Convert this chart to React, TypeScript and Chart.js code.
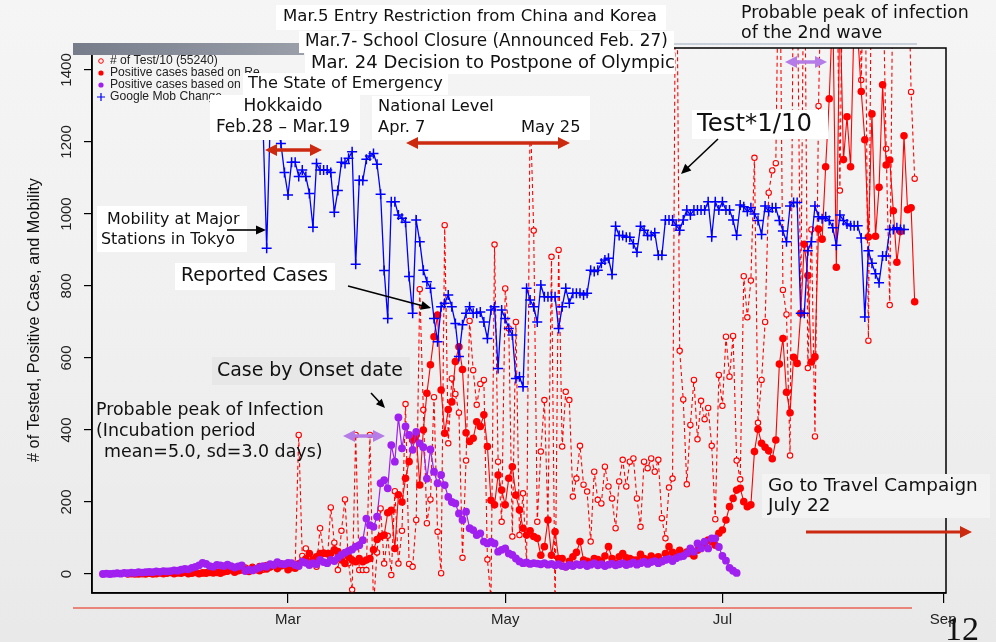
import React, { useEffect, useRef } from 'react';
import { Chart, registerables } from 'chart.js';

Chart.register(...registerables);

// x values are day numbers of 2020 (0 = Jan 1)
const xMin = 4.94;
const xMax = 244.8;
const yMin = -52.8;
const yMax = 1461;
const xTickDays = [60, 121, 182, 244];
const xTickLabels = ['Mar', 'May', 'Jul', 'Sep'];
const yTicks = [0, 200, 400, 600, 800, 1000, 1200, 1400];

// # of Test / 10 (from day 36)
const testStart = 36;
const tests = [
  2, 5, 3, 8, 4, 6, 10, 7, 12, 9, 15, 11, 18, 14, 20, 16, 22, 12, 25, 18, 28, 20, 30, 24,
  15, 30, 20, 386, 50, 71, 25, 40, 20, 127,
  60, 30, 185, 87, 11, 120, 207, 30, -44, 386,
  11, 11, 11, 386, -90, 60, 182, 29, 106, -3,
  230, 29, 120, 472, 28, 20, 150,
  791, 456, 141, 207, 491, 117, 2, 969, 363, 543,
  500, 448, 45, 315, 703, 566, 470, 528, 539, 40,
  -70, 915, 312, 145, 793, 682, 104, 700, 108, 224,
  30, 1300, 954, 145, 340, 483, 150, 881, -100, 900,
  354, 506, 483, 215, 265, 356, 248, 229, 90,
  284, 206, 196, 298, 243, 210, 127, 257, 317, 243,
  312, 321, 210, 131, 312, 294, 321, 284, 317, 155,
  99, 240, 265, 2000, 620, 485, 249, 414, 539, 374,
  481, 430, 461, 356, 152, 553, 467, 659, 548, 661,
  315, 263, 827, 713, 815, 1156, 420, 539, 700, 1059,
  1121, 1141, 1900, 789, 721, 329, 1800, 1700, 724, 1900,
  572, 957, 382, 1300, 1800, 1600, 1900, 1700, 1800, 1065,
  1900, 1750, 1800, 1700, 1900, 1372, 1800, 648, 1900, 1750,
  1800, 1700, 1181, 747, 1800, 1700, 1900, 1650, 1800, 1339,
  1098,
];

// Positive cases by reported date (from day 15)
const reportedStart = 15;
const reported = [
  0, 1, 0, 0, 1, 0, 2, 0, 1, 3,
  1, 2, 4, 1, 3, 2, 5, 1, 2, 4,
  1, 3, 2, 5, 3, 4, 2, 6, 8, 12,
  5, 9, 11, 14, 7, 15, 12, 9, 18, 14,
  20, 24, 15, 22, 26, 12, 18, 16, 28, 35,
  42, 57, 39, 48, 57, 57, 56, 57, 67, 62,
  39, 29, 48, 39, 34, 43, 34, 39, 43, 67,
  96, 104, 108, 170, 177, 71, 220, 200, 266, 312,
  372, 386, 247, 400, 502, 581, 659, 719, 511, 391,
  457, 478, 590, 631, 568, 392, 368, 377, 423, 410,
  442, 354, 205, 192, 275, 233, 192, 266, 298, 219,
  178, 127, 108, 120, 104, 99, 52, 76, 150, 52,
  117, 43, 43, 20, 35, 48, 60, 90, 39, 35,
  30, 43, 40, 35, 50, 76, 43, 30, 48, 57,
  45, 43, 39, 39, 55, 43, 39, 50, 43, 48,
  35, 57, 76, 60, 50, 66, 55, 61, 57, 50,
  66, 76, 80, 94, 90, 80, 113, 122, 150, 187,
  210, 233, 238, 201, 187, 192, 340, 402, 363, 352,
  342, 320, 372, 583, 654, 505, 448, 602, 585, 724,
  916, 829, 589, 603, 958, 930, 1131, 1320, 1580, 852,
  1600, 1151, 1270, 1131, 1550, 1500, 1340, 1206, 936, 1278,
  938, 1074, 1359, 1136, 1150, 1009, 866, 951, 1217, 1012,
  1017, 756,
];

// Positive cases by onset date (from day 8)
const onsetStart = 8;
const onset = [
  0, 1, 0, 1, 2, 1, 3, 2, 4, 3,
  5, 4, 5, 6, 5, 7, 6, 8, 7, 8,
  10, 9, 12, 14, 13, 17, 20, 24,
  31, 28, 22, 20, 25, 24, 22, 26, 22, 18,
  21, 24, 8, 12, 10, 14, 18, 22, 20, 27,
  25, 33, 28, 27, 31, 30, 25, 22, 34, 31,
  25, 30, 27, 39, 33, 30, 39, 36, 45, 53,
  59, 64, 68,
  76, 80, 94, 154, 136, 131, 159, 252, 261, 238,
  358, 312, 435, 349, 410, 386, 345, 395, 363, 352,
  265, 346, 284, 252, 275, 247, 214, 200, 196, 168,
  150, 173, 127, 122, 108, 113, 90, 85, 90, 85,
  62, 67, 71, 57, 53, 43, 35,
  30, 32, 28, 30, 29, 27, 30, 26, 28, 24,
  27, 22, 20, 25, 22, 27, 25, 28, 22, 26,
  30, 24, 27, 22, 26, 29, 24, 27, 30, 25,
  28, 32, 26, 30, 34, 28, 33, 36, 30, 35,
  39, 42, 36, 44, 48, 50, 57, 71, 62, 85,
  71, 90, 71, 99, 99, 75, 50, 37, 17, 9,
  3,
];

// Google mobility at major stations in Tokyo (scaled, from day 45)
const mobilityStart = 45;
const mobility = [
  1290, 1275, 1300, 1310, 1295, 1270, 1250, 1260, 1240, 905,
  1260, 1250, 1240, 1196, 1115, 1053, 1144, 1144, 1104, 1122,
  1104, 1057, 963, 1140, 1122, 1122, 1122, 1115, 1005, 1065,
  1144, 1140, 1155, 1173, 860, 1094, 1093, 1152, 1161, 1168,
  1138, 1055, 843, 710, 1034, 1034, 997, 988, 977, 826,
  724, 983, 923, 844, 812, 794, 710, 645, 742, 752,
  775, 742, 696, 604, 692, 724, 742, 724, 724, 728,
  700, 654, 733, 742, 571, 733, 710, 682, 664, 543,
  548, 520, 794, 761, 742, 700, 803, 770, 770, 770,
  770, 682, 742, 794, 752, 780, 780, 780, 775, 780,
  844, 840, 844, 863, 872, 877, 832, 966, 940, 940,
  935, 935, 917, 894, 966, 955, 940, 940, 948, 885,
  885, 983, 983, 983, 969, 955, 983, 1011, 997, 1011,
  1011, 1011, 1011, 1034, 937, 1034, 1011, 1034, 1011, 1011,
  983, 941, 1025, 1020, 1007, 1017, 1000, 982, 943, 1022,
  1007, 1017, 1017, 982, 953, 923, 1022, 1032, 1032, 724,
  724, 898, 923, 1022, 992, 987, 992, 982, 962, 913,
  997, 982, 972, 967, 967, 967, 933, 714, 898, 863,
  834, 809, 883, 883, 957, 957, 962, 957, 957,
];

const legendLabels = [
  '# of Test/10 (55240)',
  'Positive cases based on Re',
  'Positive cases based on On',
  'Google Mob Change',
];
const yTitle = '# of Tested, Positive Case, and Mobility';

const RED = '#ff0000';
const PURPLE = '#a020f0';
const BLUE = '#0000ff';
const ANN = '"DejaVu Sans", sans-serif';
const AX = '"Liberation Sans", Arial, sans-serif';

const toPts = (start: number, arr: number[]) => arr.map((y, i) => ({ x: start + i, y }));

function fitSize(ctx: CanvasRenderingContext2D, s: string, w: number, family: string) {
  ctx.font = `100px ${family}`;
  return (100 * w) / ctx.measureText(s).width;
}
function text(ctx: CanvasRenderingContext2D, s: string, x: number, yc: number, size: number, family: string, color = '#111', align: CanvasTextAlign = 'left') {
  ctx.font = `${size}px ${family}`;
  ctx.fillStyle = color;
  ctx.textBaseline = 'middle';
  ctx.textAlign = align;
  ctx.fillText(s, x, yc);
}
function rect(ctx: CanvasRenderingContext2D, x: number, y: number, w: number, h: number, color: string) {
  ctx.fillStyle = color;
  ctx.fillRect(x, y, w, h);
}
function head(ctx: CanvasRenderingContext2D, x1: number, y1: number, x2: number, y2: number, len: number, hw: number) {
  const a = Math.atan2(y2 - y1, x2 - x1);
  const c = Math.cos(a), s = Math.sin(a);
  ctx.beginPath();
  ctx.moveTo(x2, y2);
  ctx.lineTo(x2 - len * c + hw * s, y2 - len * s - hw * c);
  ctx.lineTo(x2 - len * c - hw * s, y2 - len * s + hw * c);
  ctx.closePath();
  ctx.fill();
}
function arrow(ctx: CanvasRenderingContext2D, x1: number, y1: number, x2: number, y2: number, color: string, lw: number, len: number, hw: number, both = false) {
  const a = Math.atan2(y2 - y1, x2 - x1);
  const c = Math.cos(a), s = Math.sin(a);
  ctx.strokeStyle = color;
  ctx.fillStyle = color;
  ctx.lineWidth = lw;
  ctx.setLineDash([]);
  ctx.beginPath();
  ctx.moveTo(both ? x1 + len * 0.8 * c : x1, both ? y1 + len * 0.8 * s : y1);
  ctx.lineTo(x2 - len * 0.8 * c, y2 - len * 0.8 * s);
  ctx.stroke();
  head(ctx, x1, y1, x2, y2, len, hw);
  if (both) head(ctx, x2, y2, x1, y1, len, hw);
}

const bgPlugin = {
  id: 'slideBg',
  beforeDraw(chart: any) {
    const { ctx, width, height } = chart;
    const g = ctx.createLinearGradient(0, 0, 0, height);
    g.addColorStop(0, '#f5f5f5');
    g.addColorStop(0.5, '#f0f0f0');
    g.addColorStop(1, '#e9e9e9');
    ctx.save();
    ctx.fillStyle = g;
    ctx.fillRect(0, 0, width, height);
    ctx.restore();
  },
};

const decoPlugin = {
  id: 'deco',
  afterDraw(chart: any) {
    const ctx: CanvasRenderingContext2D = chart.ctx;
    const a = chart.chartArea;
    const ys = chart.scales.y;
    ctx.save();

    // plot box
    ctx.strokeStyle = '#000';
    ctx.lineWidth = 1.5;
    ctx.setLineDash([]);
    ctx.strokeRect(a.left, a.top, a.right - a.left, a.bottom - a.top);

    // y tick labels (rotated, R style)
    yTicks.forEach((v) => {
      const py = ys.getPixelForValue(v);
      ctx.save();
      ctx.translate(67, py);
      ctx.rotate(-Math.PI / 2);
      text(ctx, String(v), 0, 0, 15, AX, '#222', 'center');
      ctx.restore();
    });
    // y axis title
    ctx.save();
    ctx.translate(35, 320);
    ctx.rotate(-Math.PI / 2);
    text(ctx, yTitle, 0, 0, fitSize(ctx, yTitle, 284, AX), AX, '#111', 'center');
    ctx.restore();

    // legend
    const ly = [61, 73, 85, 97];
    const lsize = fitSize(ctx, legendLabels[0], 108, AX);
    ctx.lineWidth = 1;
    ctx.strokeStyle = RED;
    ctx.beginPath(); ctx.arc(101, ly[0], 2.3, 0, Math.PI * 2); ctx.stroke();
    ctx.fillStyle = RED;
    ctx.beginPath(); ctx.arc(101, ly[1], 2.6, 0, Math.PI * 2); ctx.fill();
    ctx.fillStyle = PURPLE;
    ctx.beginPath(); ctx.arc(101, ly[2], 2.6, 0, Math.PI * 2); ctx.fill();
    ctx.strokeStyle = BLUE; ctx.lineWidth = 1.2;
    ctx.beginPath(); ctx.moveTo(97, ly[3]); ctx.lineTo(105, ly[3]); ctx.moveTo(101, ly[3] - 4); ctx.lineTo(101, ly[3] + 4); ctx.stroke();
    legendLabels.forEach((s, i) => text(ctx, s, 110, ly[i], lsize, AX, '#222'));

    // slide decorations
    const bar = ctx.createLinearGradient(73, 0, 304, 0);
    bar.addColorStop(0, '#767c8a');
    bar.addColorStop(1, '#9a9fa9');
    ctx.fillStyle = bar;
    ctx.fillRect(73, 43, 231, 12);
    ctx.strokeStyle = '#b9c3cf';
    ctx.lineWidth = 1.5;
    ctx.beginPath(); ctx.moveTo(672, 44); ctx.lineTo(917, 44); ctx.stroke();
    ctx.strokeStyle = '#e8200a';
    ctx.lineWidth = 1.2;
    ctx.beginPath(); ctx.moveTo(73, 608); ctx.lineTo(912, 608); ctx.stroke();

    // annotation boxes and texts
    const W = '#ffffff';
    let s: number;
    rect(ctx, 276, 5, 390, 25, W);
    s = fitSize(ctx, 'Mar.5 Entry Restriction from China and Korea', 374, ANN);
    text(ctx, 'Mar.5 Entry Restriction from China and Korea', 283, 17, s, ANN);

    rect(ctx, 299, 31, 375, 22, W);
    s = fitSize(ctx, 'Mar.7- School Closure (Announced Feb. 27)', 363, ANN);
    text(ctx, 'Mar.7- School Closure (Announced Feb. 27)', 305, 42, s, ANN);

    rect(ctx, 305, 53, 370, 21, W);
    s = fitSize(ctx, 'Mar. 24 Decision to Postpone of Olympic', 364, ANN);
    text(ctx, 'Mar. 24 Decision to Postpone of Olympic', 311, 63, s, ANN);

    rect(ctx, 243, 73, 205, 22, W);
    s = fitSize(ctx, 'The State of Emergency', 195, ANN);
    text(ctx, 'The State of Emergency', 248, 84, s, ANN);

    rect(ctx, 210, 95, 150, 45, W);
    s = fitSize(ctx, 'Feb.28 – Mar.19', 134, ANN);
    text(ctx, 'Hokkaido', 283, 107, s, ANN, '#111', 'center');
    text(ctx, 'Feb.28 – Mar.19', 216, 128, s, ANN);

    rect(ctx, 372, 96, 218, 44, W);
    s = fitSize(ctx, 'National Level', 116, ANN);
    text(ctx, 'National Level', 378, 107, s, ANN);
    text(ctx, 'Apr. 7', 378, 128, s, ANN);
    text(ctx, 'May 25', 521, 128, s, ANN);

    rect(ctx, 692, 110, 136, 29, W);
    s = fitSize(ctx, 'Test*1/10', 115, ANN);
    text(ctx, 'Test*1/10', 697, 125, s, ANN);

    rect(ctx, 97, 206, 150, 46, W);
    s = fitSize(ctx, 'Stations in Tokyo', 134, ANN);
    text(ctx, 'Mobility at Major', 107, 220, s, ANN);
    text(ctx, 'Stations in Tokyo', 101, 240, s, ANN);

    rect(ctx, 175, 263, 160, 27, W);
    s = fitSize(ctx, 'Reported Cases', 147, ANN);
    text(ctx, 'Reported Cases', 181, 276, s, ANN);

    rect(ctx, 212, 357, 198, 28, '#e7e7e7');
    s = fitSize(ctx, 'Case by Onset date', 186, ANN);
    text(ctx, 'Case by Onset date', 217, 371, s, ANN);

    s = fitSize(ctx, 'Probable peak of Infection', 228, ANN);
    text(ctx, 'Probable peak of Infection', 96, 410, s, ANN);
    text(ctx, '(Incubation period', 96, 431, s, ANN);
    text(ctx, 'mean=5.0, sd=3.0 days)', 104, 452, s, ANN);

    s = fitSize(ctx, 'Probable peak of infection', 228, ANN);
    text(ctx, 'Probable peak of infection', 741, 13, s, ANN);
    text(ctx, 'of the 2nd wave', 741, 33, s, ANN);

    rect(ctx, 762, 474, 228, 44, '#f3f3f3');
    s = fitSize(ctx, 'Go to Travel Campaign', 210, ANN);
    text(ctx, 'Go to Travel Campaign', 768, 486, s, ANN);
    text(ctx, 'July 22', 768, 506, s, ANN);

    // arrows
    const DR = '#cc2a10';
    const LP = '#b57be6';
    arrow(ctx, 265, 150, 322, 150, DR, 3.5, 12, 6, true);
    arrow(ctx, 406, 143, 570, 143, DR, 3.5, 12, 6, true);
    arrow(ctx, 343, 436, 385, 436, LP, 3.5, 12, 6, true);
    arrow(ctx, 785, 62, 827, 62, LP, 3.5, 12, 6, true);
    arrow(ctx, 806, 532, 972, 532, DR, 3, 12, 6, false);
    arrow(ctx, 227, 230, 266, 230, '#000', 1.6, 10, 4.5);
    arrow(ctx, 348, 286, 431, 308, '#000', 1.6, 10, 4.5);
    arrow(ctx, 371, 393, 385, 408, '#000', 1.6, 9, 4);
    arrow(ctx, 718, 139, 681, 174, '#000', 1.6, 10, 4.5);

    // slide number
    ctx.font = '34px "Liberation Serif", serif';
    ctx.fillStyle = '#111';
    ctx.textAlign = 'left';
    ctx.textBaseline = 'alphabetic';
    ctx.fillText('12', 945, 640);

    ctx.restore();
  },
};

export default function App() {
  const ref = useRef<HTMLCanvasElement | null>(null);
  useEffect(() => {
    if (!ref.current) return;
    const chart = new Chart(ref.current, {
      type: 'line',
      data: {
        datasets: [
          {
            label: 'Mobility',
            data: toPts(mobilityStart, mobility),
            borderColor: BLUE,
            borderWidth: 1.3,
            pointStyle: 'cross',
            pointRadius: 5,
            pointBorderColor: BLUE,
            pointBorderWidth: 1.5,
            tension: 0,
            order: 1,
            clip: 0,
          },
          {
            label: 'Onset',
            data: toPts(onsetStart, onset),
            borderColor: PURPLE,
            borderWidth: 1.2,
            pointStyle: 'circle',
            pointRadius: 3.9,
            pointBackgroundColor: PURPLE,
            pointBorderWidth: 0,
            tension: 0,
            order: 2,
            clip: 0,
          },
          {
            label: 'Reported',
            data: toPts(reportedStart, reported),
            borderColor: RED,
            borderWidth: 1.1,
            pointStyle: 'circle',
            pointRadius: 3.8,
            pointBackgroundColor: RED,
            pointBorderWidth: 0,
            tension: 0,
            order: 3,
            clip: 0,
          },
          {
            label: 'Tests/10',
            data: toPts(testStart, tests),
            borderColor: RED,
            borderWidth: 1.1,
            borderDash: [4, 3],
            pointStyle: 'circle',
            pointRadius: 2.7,
            pointBackgroundColor: '#f1f1f1',
            pointBorderColor: RED,
            pointBorderWidth: 1.1,
            tension: 0,
            order: 4,
            clip: 0,
          },
        ] as any,
      },
      options: {
        responsive: false,
        animation: false,
        events: [],
        layout: { padding: { left: 0, right: 50, top: 48, bottom: 0 } },
        plugins: { legend: { display: false }, tooltip: { enabled: false } },
        scales: {
          x: {
            type: 'linear',
            min: xMin,
            max: xMax,
            afterBuildTicks: (s: any) => {
              s.ticks = xTickDays.map((v) => ({ value: v }));
            },
            afterFit: (s: any) => {
              s.height = 49;
            },
            ticks: {
              autoSkip: false,
              maxRotation: 0,
              padding: 8,
              color: '#222',
              font: { family: 'Liberation Sans', size: 15 },
              callback: (v: any) => {
                const i = xTickDays.indexOf(Number(v));
                return i >= 0 ? xTickLabels[i] : '';
              },
            },
            grid: { display: true, drawOnChartArea: false, drawTicks: true, tickLength: 10, color: '#000', lineWidth: 1.2 },
            border: { display: true, color: '#000', width: 1.5 },
          },
          y: {
            type: 'linear',
            min: yMin,
            max: yMax,
            afterBuildTicks: (s: any) => {
              s.ticks = yTicks.map((v) => ({ value: v }));
            },
            afterFit: (s: any) => {
              s.width = 92;
            },
            ticks: { display: false },
            grid: { display: true, drawOnChartArea: false, drawTicks: true, tickLength: 8, color: '#000', lineWidth: 1.2 },
            border: { display: true, color: '#000', width: 1.5 },
          },
        },
      } as any,
      plugins: [bgPlugin, decoPlugin],
    });
    return () => chart.destroy();
  }, []);
  return (
    <div style={{ position: 'fixed', left: 0, top: 0, width: 996, height: 642 }}>
      <canvas ref={ref} width={996} height={642} style={{ display: 'block', width: 996, height: 642 }} />
    </div>
  );
}
